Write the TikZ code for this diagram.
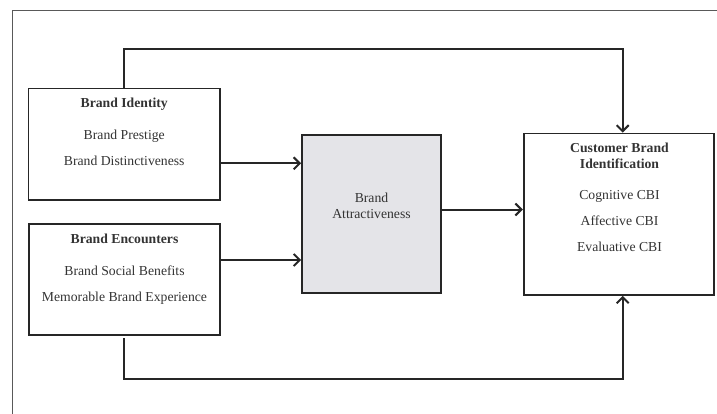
\documentclass[tikz,border=0pt]{standalone}
\usepackage{fontspec}
\setmainfont{Liberation Serif}
\usetikzlibrary{arrows.meta}
\definecolor{ink}{HTML}{262626}
\definecolor{txt}{HTML}{333333}
\definecolor{attfill}{HTML}{E4E4E8}
\tikzset{
  box/.style={draw=ink, line width=1.8pt, rectangle, inner sep=0pt},
  lbl/.style={anchor=base, inner sep=0pt, text=txt, font=\fontsize{13.7}{16}\selectfont},
  ttl/.style={lbl, font=\fontsize{13.7}{16}\selectfont\bfseries},
  conn/.style={draw=ink, line width=2pt, -{Straight Barb[length=6pt,width=12pt,line width=2pt]}},
  plain/.style={draw=ink, line width=2pt},
}
\begin{document}
\begin{tikzpicture}[x=1pt,y=-1pt]
\useasboundingbox (0,0) rectangle (717,414);
% outer frame
\draw[gray!70!black, line width=1pt] (12.5,414) -- (12.5,11) -- (717,11);
% boxes
\node[box, minimum width=191.5pt, minimum height=111.5pt] (bi) at (124.25,144.25) {};
\node[box, minimum width=191pt, minimum height=111pt] (be) at (124.5,279.5) {};
\node[box, fill=attfill, minimum width=139pt, minimum height=158pt] (ba) at (371.5,214) {};
\node[box, minimum width=190pt, minimum height=161.5pt] (cbi) at (618.7,214.2) {};
% texts
\node[ttl] (t1) at (124.25,107.7) {Brand Identity};
\node[lbl] (t2) at (124.25,139.5) {Brand Prestige};
\node[lbl] (t3) at (124.25,165.5) {Brand Distinctiveness};
\node[ttl] (t4) at (124.5,243.3) {Brand Encounters};
\node[lbl] (t5) at (124.5,275.3) {Brand Social Benefits};
\node[lbl] (t6) at (124.5,301) {Memorable Brand Experience};
\node[lbl] (t7) at (371.5,202.3) {Brand};
\node[lbl] (t8) at (371.5,218.5) {Attractiveness};
\node[ttl] (t9) at (619.5,152.3) {Customer Brand};
\node[ttl] (t10) at (619.5,168.3) {Identification};
\node[lbl] (t11) at (619.5,200) {Cognitive CBI};
\node[lbl] (t12) at (619.5,225.7) {Affective CBI};
\node[lbl] (t13) at (619.5,251.7) {Evaluative CBI};
% connectors
\coordinate (topc) at (622.7,49);
\coordinate (botc) at (622.7,379);
\coordinate (bs) at (124,338);
\draw[conn] (bi.north) |- (topc) -- (topc |- cbi.north);
\draw[conn] (bs) |- (botc) -- (botc |- cbi.south);
\draw[conn] (bi.east |- 0,163.3) -- (ba.west |- 0,163.3);
\draw[conn] (be.east |- 0,260) -- (ba.west |- 0,260);
\draw[conn] (ba.east |- 0,209.5) -- (cbi.west |- 0,209.5);
\end{tikzpicture}
\end{document}
